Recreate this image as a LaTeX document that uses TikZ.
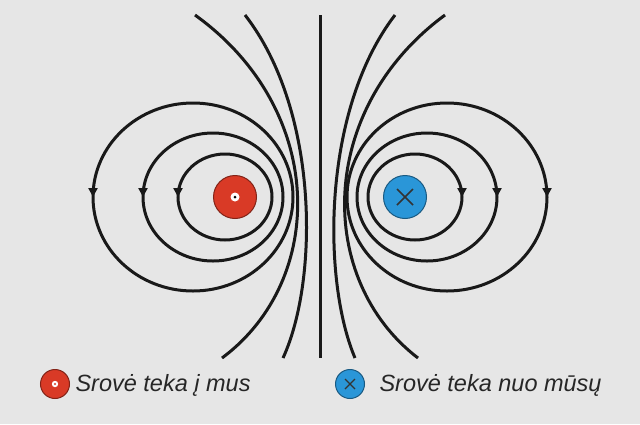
\documentclass[tikz,border=0pt]{standalone}
\usepackage{fontspec}
\setmainfont{Liberation Sans}
\usetikzlibrary{decorations.markings,arrows.meta,calc}
\definecolor{bg}{HTML}{E6E6E6}
\definecolor{cred}{HTML}{D93A26}
\definecolor{cblue}{HTML}{2A96D8}
\tikzset{
 fl/.style={line width=3pt,black!90},
 arrdown/.style={postaction={decorate},decoration={markings,mark=at position #1 with {\arrow{Triangle[length=9pt,width=9pt]}}}},
 cond/.style={circle,minimum size=#1,inner sep=0pt,line width=1pt},
}
\begin{document}
\begin{tikzpicture}[x=1pt,y=-1pt]
\fill[bg] (0,0) rectangle (640,424);
\useasboundingbox (0,0) rectangle (640,424);
\foreach \cx/\rx/\ry in {225/47/43,213/70/64,193/100/94}{
  \draw[fl,arrdown=0.5] (\cx+\rx,197) arc[start angle=0,end angle=-360,x radius=\rx,y radius=\ry];
}
\foreach \cx/\rx/\ry in {415/47/43,427/70/64,447/100/94}{
  \draw[fl,arrdown=0.5] (\cx-\rx,197) arc[start angle=180,end angle=540,x radius=\rx,y radius=\ry];
}
\coordinate (a1) at (195,15); \coordinate (a2) at (222,358);
\coordinate (b1) at (245,15); \coordinate (b2) at (283,358);
\coordinate (m1) at (320,15); \coordinate (m2) at (320,358);
\coordinate (c1) at (395,15); \coordinate (c2) at (355,358);
\coordinate (d1) at (445,15); \coordinate (d2) at (418,358);
\draw[fl] (a1) .. controls (327,110) and (327,280) .. (a2);
\draw[fl] (b1) .. controls (319,110) and (319,280) .. (b2);
\draw[fl] (m1) -- (m2);
\draw[fl] (c1) .. controls (322,110) and (322,280) .. (c2);
\draw[fl] (d1) .. controls (316,110) and (316,280) .. (d2);
\node[cond=43pt,fill=cred,draw=cred!60!black] (L) at (235,197) {};
\fill[white] (L) circle (4.5pt); \fill[black] (L) circle (1.5pt);
\node[cond=43pt,fill=cblue,draw=cblue!60!black] (R) at (405,197) {};
\draw[line width=1.6pt,black!80] ($(R)+(-8,-8)$) -- ($(R)+(8,8)$) ($(R)+(-8,8)$) -- ($(R)+(8,-8)$);
\node[cond=29pt,fill=cred,draw=cred!60!black] (lL) at (55,384) {};
\fill[white] (lL) circle (3.2pt); \fill[cred] (lL) circle (1.1pt);
\node[anchor=west,font=\fontsize{23.5}{26}\selectfont\itshape,text=black!85] (tL) at (72,385) {Srovė teka į mus};
\node[cond=29pt,fill=cblue,draw=cblue!60!black] (lR) at (350,384) {};
\draw[line width=1.1pt,black!80] ($(lR)+(-5,-5)$) -- ($(lR)+(5,5)$) ($(lR)+(-5,5)$) -- ($(lR)+(5,-5)$);
\node[anchor=west,font=\fontsize{23.5}{26}\selectfont\itshape,text=black!85] (tR) at (376,385) {Srovė teka nuo mūsų};
\end{tikzpicture}
\end{document}
